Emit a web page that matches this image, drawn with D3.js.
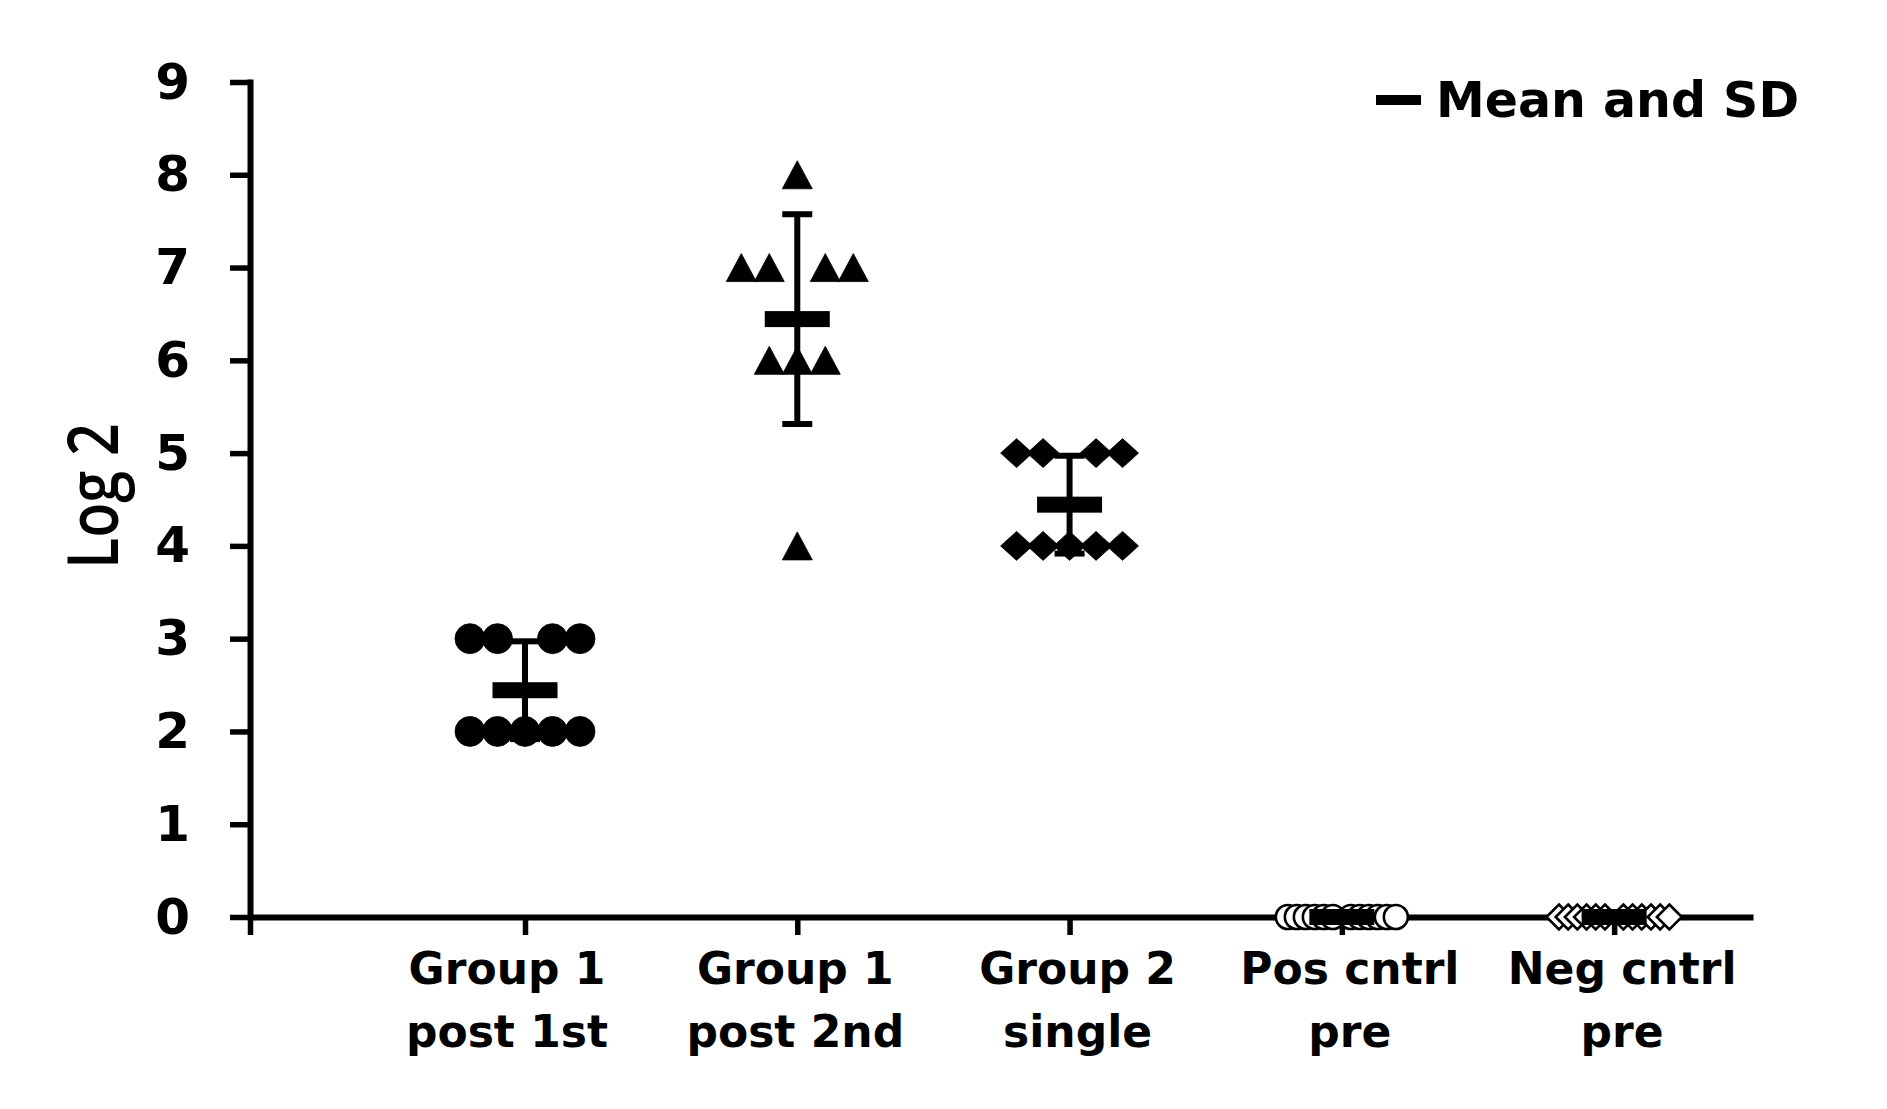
<!DOCTYPE html>
<html>
<head>
<meta charset="utf-8">
<script src="https://cdn.jsdelivr.net/npm/d3@7"></script>
<style>
  html, body { margin: 0; padding: 0; background: #fff; }
  svg { display: block; }
</style>
</head>
<body>
<svg id="chart" width="1887" height="1109"></svg>
<script>
// ---------------- data ----------------
const categoryLine1 = ["Group 1", "Group 1", "Group 2", "Pos cntrl", "Neg cntrl"];
const categoryLine2 = ["post 1st", "post 2nd", "single", "pre", "pre"];
const group1Post1st = [3, 3, 3, 3, 2, 2, 2, 2, 2];
const group1Post2nd = [8, 7, 7, 7, 7, 6, 6, 6, 4];
const group2Single  = [5, 5, 5, 5, 4, 4, 4, 4, 4];
const posCntrlPre   = [0, 0, 0, 0, 0, 0, 0, 0, 0, 0, 0, 0];
const negCntrlPre   = [0, 0, 0, 0, 0, 0, 0, 0, 0, 0, 0, 0];
const yTickValues   = [0, 1, 2, 3, 4, 5, 6, 7, 8, 9];
const yAxisTitle    = "Log 2";
const legendLabel   = "Mean and SD";

const seriesValues = [group1Post1st, group1Post2nd, group2Single, posCntrlPre, negCntrlPre];

// ---------------- styles ----------------
const markerKind   = ["circle", "triangle", "diamond", "openCircle", "openDiamond"];
const pointSpacing = [27.5, 28, 26.5, 9, 9.2];
const labelShift   = [-18, -2, 8, 8, 8];

// ---------------- layout ----------------
const svg = d3.select("#chart");
const y = d3.scaleLinear().domain([0, 9]).range([917, 82]);
const x = d3.scaleLinear().domain([-1.01, 4.51]).range([250, 1753]);

const FONT = "'DejaVu Sans', Verdana, sans-serif";

// custom symbol types
const triType = { draw(ctx, size) { const s = Math.sqrt(size); ctx.moveTo(0, -s * 0.467); ctx.lineTo(s * 0.5, s * 0.467); ctx.lineTo(-s * 0.5, s * 0.467); ctx.closePath(); } };
const diaType = (wr) => ({ draw(ctx, size) { const s = Math.sqrt(size); ctx.moveTo(0, -s / 2); ctx.lineTo(s * wr / 2, 0); ctx.lineTo(0, s / 2); ctx.lineTo(-s * wr / 2, 0); ctx.closePath(); } });

const symbolFor = {
  circle:      d3.symbol().type(d3.symbolCircle).size(Math.PI * 15 * 15),
  triangle:    d3.symbol().type(triType).size(30 * 30),
  diamond:     d3.symbol().type(diaType(1.1)).size(29 * 29),
  openCircle:  d3.symbol().type(d3.symbolCircle).size(Math.PI * 12 * 12),
  openDiamond: d3.symbol().type(diaType(1.0)).size(25 * 25)
};

// points layout: same-value points spread horizontally
function layoutPoints(values) {
  const counts = d3.rollup(values, v => v.length, v => v);
  const used = new Map();
  return values.map(v => {
    const n = counts.get(v);
    const k = used.get(v) || 0;
    used.set(v, k + 1);
    let slot;
    if (n % 2 === 1) slot = k - (n - 1) / 2;
    else { const half = n / 2; slot = k < half ? k - half : k - half + 1; }
    return { value: v, slot };
  });
}

// ---------------- axes ----------------
const yAxisG = svg.append("g").attr("transform", "translate(250,0)")
  .call(d3.axisLeft(y).tickValues(yTickValues).tickSize(20).tickSizeOuter(0).tickPadding(40));
yAxisG.select(".domain").attr("stroke", "#000").attr("stroke-width", 6).attr("stroke-linecap", "square");
yAxisG.selectAll(".tick line").attr("stroke", "#000").attr("stroke-width", 5.5);
yAxisG.selectAll(".tick text").attr("fill", "#000")
  .style("font-family", FONT).style("font-weight", "bold").style("font-size", "50px");

const xAxisG = svg.append("g").attr("transform", "translate(0,917)")
  .call(d3.axisBottom(x).tickValues([x.domain()[0], 0, 1, 2, 3, 4]).tickSize(18).tickSizeOuter(0).tickFormat(() => ""));
xAxisG.select(".domain").attr("stroke", "#000").attr("stroke-width", 6);
xAxisG.selectAll(".tick line").attr("stroke", "#000").attr("stroke-width", 5.5);

// category labels
const catG = svg.append("g");
categoryLine1.forEach((l1, i) => {
  const cx = x(i) + labelShift[i];
  const t = catG.append("text")
    .attr("text-anchor", "middle")
    .style("font-family", FONT).style("font-weight", "bold").style("font-size", "44px")
    .attr("fill", "#000");
  t.append("tspan").attr("x", cx).attr("y", 984).text(l1);
  t.append("tspan").attr("x", cx).attr("y", 1047).text(categoryLine2[i]);
});

// y-axis title
svg.append("text")
  .attr("transform", "translate(118,496) rotate(-90)")
  .attr("text-anchor", "middle")
  .attr("textLength", 146).attr("lengthAdjust", "spacingAndGlyphs")
  .style("font-family", "'Open Sans', 'Noto Sans', sans-serif").style("font-weight", "600").style("font-size", "70px")
  .attr("fill", "#000")
  .text(yAxisTitle);

// ---------------- points ----------------
seriesValues.forEach((vals, i) => {
  const pts = layoutPoints(vals).sort((a, b) => a.slot - b.slot);
  const kind = markerKind[i];
  const open = kind.startsWith("open");
  svg.append("g").selectAll("path").data(pts).join("path")
    .attr("d", symbolFor[kind])
    .attr("transform", d => `translate(${x(i) + d.slot * pointSpacing[i]},${y(d.value)})`)
    .attr("fill", open ? "#fff" : "#000")
    .attr("stroke", "#000")
    .attr("stroke-width", open ? 2.6 : 0.8);
});

// ---------------- mean and SD ----------------
seriesValues.forEach((vals, i) => {
  const m = d3.mean(vals);
  const sd = d3.deviation(vals) || 0;
  const g = svg.append("g").attr("stroke", "#000");
  const cx = x(i);
  g.append("line").attr("x1", cx).attr("x2", cx).attr("y1", y(m - sd)).attr("y2", y(m + sd)).attr("stroke-width", 6);
  [m - sd, m + sd].forEach(v => {
    g.append("line").attr("x1", cx - 15).attr("x2", cx + 15).attr("y1", y(v)).attr("y2", y(v)).attr("stroke-width", 6);
  });
  svg.append("rect").attr("x", cx - 32.5).attr("y", y(m) - 8).attr("width", 65).attr("height", 16).attr("fill", "#000");
});

// ---------------- legend ----------------
const lg = svg.append("g");
lg.append("line").attr("x1", 1376).attr("x2", 1421).attr("y1", 100).attr("y2", 100).attr("stroke", "#000").attr("stroke-width", 10);
lg.append("text").attr("x", 1436).attr("y", 117)
  .style("font-family", FONT).style("font-weight", "bold").style("font-size", "49px")
  .attr("fill", "#000").text(legendLabel);
</script>
</body>
</html>
